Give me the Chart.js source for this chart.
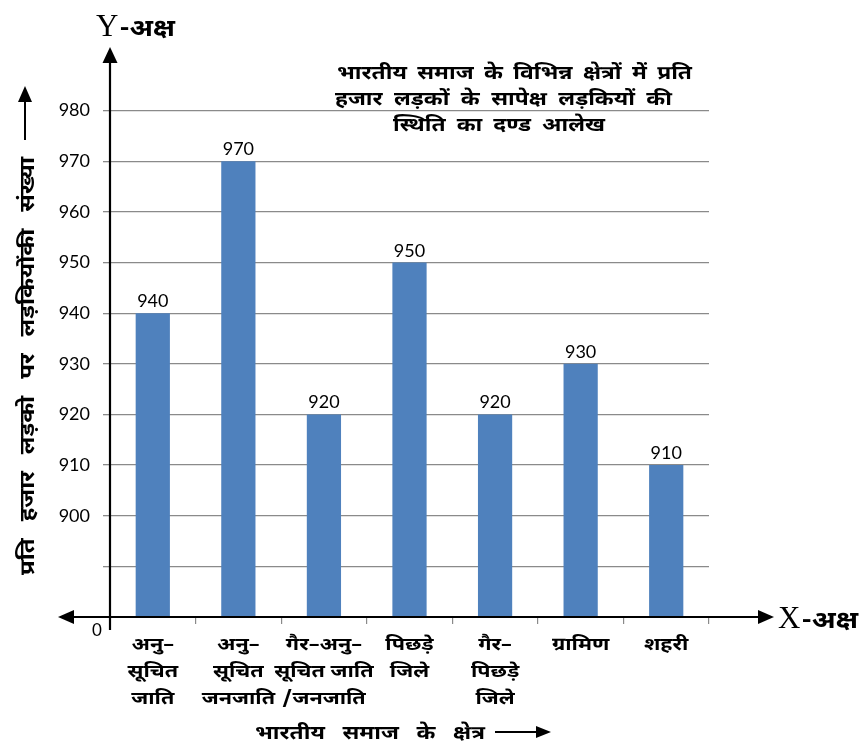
<!DOCTYPE html>
<html>
<head>
<meta charset="utf-8">
<script src="https://cdn.jsdelivr.net/npm/chart.js@4"></script>
<style>
html,body{margin:0;padding:0;background:#fff;}
#wrap{position:relative;width:861px;height:744px;}
</style>
</head>
<body>
<div id="wrap"><canvas id="c" width="861" height="744"></canvas></div>
<script>
const categories = [
  ["अनु–","सूचित","जाति"],
  ["अनु–","सूचित","जनजाति"],
  ["गैर–अनु–","सूचित जाति","/जनजाति"],
  ["पिछड़े","जिले"],
  ["गैर–","पिछड़े","जिले"],
  ["ग्रामिण"],
  ["शहरी"]
];
const values = [940, 970, 920, 950, 920, 930, 910];
const yTickLabels = [900, 910, 920, 930, 940, 950, 960, 970, 980];
const zeroLabel = "0";
const titleLines = ["भारतीय समाज के विभिन्न क्षेत्रों में प्रति", "हजार लड़कों के सापेक्ष लड़कियों की", "स्थिति का दण्ड आलेख"];
const yAxisTitle = "प्रति हजार लड़को पर लड़कियोंकी संख्या";
const xAxisTitle = "भारतीय समाज के क्षेत्र";
const yAxisName = "Y-अक्ष";
const xAxisName = "X-अक्ष";

const DEV = "'Noto Sans Devanagari','Lohit Devanagari','Mangal','Noto Sans',sans-serif";
const NUM = "Lato,'Open Sans',sans-serif";
const Y_MIN = 880, Y_MAX = 990;
const STRETCH = 1.2;

function arrowHead(ctx, x, y, dir, len, half) {
  ctx.beginPath();
  if (dir === 'up') { ctx.moveTo(x, y); ctx.lineTo(x - half, y + len); ctx.lineTo(x + half, y + len); }
  else if (dir === 'left') { ctx.moveTo(x, y); ctx.lineTo(x + len, y - half); ctx.lineTo(x + len, y + half); }
  else if (dir === 'right') { ctx.moveTo(x, y); ctx.lineTo(x - len, y - half); ctx.lineTo(x - len, y + half); }
  ctx.closePath(); ctx.fill();
}

// Devanagari text drawn horizontally stretched (wide face look); extra room goes to word gaps
function devText(ctx, text, x, y, opts) {
  const size = opts.size, align = opts.align || 'left';
  const maxS = opts.stretch || STRETCH;
  ctx.font = "bold " + size + "px " + DEV;
  ctx.wordSpacing = '0px';
  let w = ctx.measureText(text).width;
  let sx = maxS;
  if (opts.target) {
    sx = Math.min(maxS, opts.target / w);
    const gaps = text.split(' ').length - 1;
    if (gaps > 0) {
      const extra = (opts.target / sx - w) / gaps;
      if (extra > 0) ctx.wordSpacing = extra + 'px';
      w = ctx.measureText(text).width;
    }
  }
  const total = w * sx;
  let left = x;
  if (align === 'center') left = x - total / 2;
  ctx.save();
  ctx.translate(left, y);
  ctx.scale(sx, 1);
  ctx.textAlign = 'left';
  ctx.fillText(text, 0, 0);
  ctx.restore();
  ctx.wordSpacing = '0px';
  return total;
}

const decor = {
  id: 'decor',
  afterDatasetsDraw(chart) {
    const ctx = chart.ctx;
    const ca = chart.chartArea;
    const ys = chart.scales.y, xs = chart.scales.x;
    const x0 = ca.left, yb = ys.getPixelForValue(Y_MIN);
    ctx.save();
    ctx.fillStyle = '#000'; ctx.strokeStyle = '#000';
    ctx.textBaseline = 'alphabetic';
    // axes lines
    ctx.lineWidth = 2.2;
    ctx.beginPath(); ctx.moveTo(x0, 630); ctx.lineTo(x0, 58); ctx.stroke();
    arrowHead(ctx, x0, 47, 'up', 16, 7.5);
    ctx.beginPath(); ctx.moveTo(70, yb); ctx.lineTo(762, yb); ctx.stroke();
    arrowHead(ctx, 58, yb, 'left', 16, 7);
    arrowHead(ctx, 774, yb, 'right', 16, 7);
    // value labels
    ctx.font = "18px " + NUM;
    ctx.textAlign = 'center';
    const meta = chart.getDatasetMeta(0);
    meta.data.forEach((bar, i) => {
      ctx.fillText(String(values[i]), bar.x, bar.y - 6);
    });
    // zero
    ctx.font = "17px " + NUM;
    ctx.fillText(zeroLabel, 97, 636);
    // category labels (positions from the x scale)
    categories.forEach((lines, i) => {
      const cx = xs.getPixelForValue(i);
      lines.forEach((t, j) => devText(ctx, t, cx, 650 + j * 27, { size: 18, align: 'center', stretch: 1.2 }));
    });
    // title
    devText(ctx, titleLines[0], 337, 79, { size: 19, target: 355 });
    devText(ctx, titleLines[1], 335, 105, { size: 19, target: 337 });
    devText(ctx, titleLines[2], 393, 131, { size: 19, target: 212 });
    // axis names
    ctx.textAlign = 'left';
    ctx.font = "31px 'Liberation Serif',serif";
    ctx.fillText("Y", 96, 36);
    let w = ctx.measureText("Y").width;
    devText(ctx, yAxisName.slice(1), 96 + w + 1, 36, { size: 24, target: 175 - (97 + w) });
    ctx.font = "31px 'Liberation Serif',serif";
    ctx.fillText("X", 778, 628);
    w = ctx.measureText("X").width;
    devText(ctx, xAxisName.slice(1), 778 + w + 1, 628, { size: 24, target: 858 - (779 + w) });
    // x axis title
    const xtW = devText(ctx, xAxisTitle, 255, 739, { size: 19, target: 230 });
    ctx.lineWidth = 2;
    ctx.beginPath(); ctx.moveTo(255 + xtW + 10, 732); ctx.lineTo(537, 732); ctx.stroke();
    arrowHead(ctx, 551, 732, 'right', 15, 6);
    // y axis title (rotated)
    ctx.save();
    ctx.translate(34, 575);
    ctx.rotate(-Math.PI / 2);
    const ytW = devText(ctx, yAxisTitle, 0, 0, { size: 20, target: 418 });
    ctx.restore();
    ctx.lineWidth = 2;
    ctx.beginPath(); ctx.moveTo(25, 575 - ytW - 17); ctx.lineTo(25, 100); ctx.stroke();
    arrowHead(ctx, 25, 86, 'up', 16, 7);
    ctx.restore();
  }
};

new Chart(document.getElementById('c'), {
  type: 'bar',
  data: {
    labels: categories,
    datasets: [{
      data: values,
      backgroundColor: '#4F81BD',
      borderWidth: 0,
      barPercentage: 0.4,
      categoryPercentage: 1.0
    }]
  },
  options: {
    responsive: false,
    animation: false,
    devicePixelRatio: 1,
    layout: { padding: { left: 0, right: 152, top: 60, bottom: 0 } },
    plugins: { legend: { display: false }, tooltip: { enabled: false }, title: { display: false } },
    scales: {
      x: {
        grid: { drawOnChartArea: false, drawTicks: true, tickLength: 7, color: '#8a8a8a', lineWidth: 1.2, offset: true },
        border: { display: false },
        ticks: { display: false },
        afterFit(s) { s.height = 127; }
      },
      y: {
        min: Y_MIN, max: Y_MAX,
        grid: {
          tickLength: 7, lineWidth: 1.3,
          color: (c) => (c.tick && (c.tick.value === Y_MIN || c.tick.value === Y_MAX)) ? 'rgba(0,0,0,0)' : '#8a8a8a'
        },
        border: { display: false },
        ticks: {
          stepSize: 10, padding: 13, color: '#000',
          font: { family: NUM, size: 18 },
          callback: (v) => yTickLabels.includes(v) ? String(v) : ''
        },
        afterFit(s) { s.width = 110; }
      }
    }
  },
  plugins: [decor]
});
</script>
</body>
</html>
